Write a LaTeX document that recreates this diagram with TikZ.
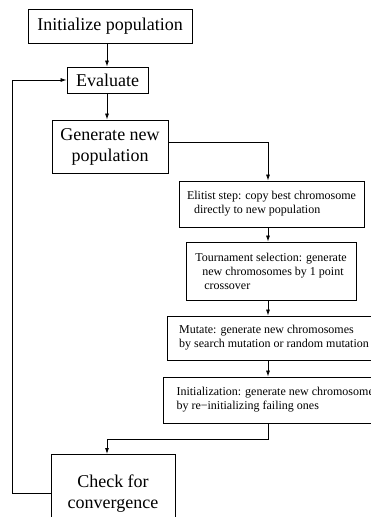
\documentclass[tikz,border=0pt]{standalone}
\usepackage{fontspec}
\setmainfont{Liberation Serif}
\usetikzlibrary{positioning,arrows.meta}

\begin{document}
\begin{tikzpicture}[x=1pt,y=-1pt,
  bigbox/.style = {draw=black, line width=0.9pt, inner sep=0pt, align=center, font=\fontsize{18}{21}\selectfont},
  smallbox/.style = {draw=black, line width=0.9pt, inner sep=0pt, align=left, font=\fontsize{12}{14}\selectfont},
  flow/.style = {-{Latex[length=6pt,width=4pt]}, line width=0.8pt}]
\path[use as bounding box, clip] (0,0) rectangle (371,517);
\coordinate (lcol) at (107,0);
\coordinate (rcol) at (268,0);
\coordinate (joint) at (0,439);
% main loop
\node[bigbox, minimum width=164pt, minimum height=34pt] (initpop) at (110,26) {Initialize population};
\node[bigbox, minimum width=81pt, minimum height=26pt] (evaluate) at (107.5,80) {Evaluate};
\node[bigbox, minimum width=116pt, minimum height=53pt] (genpop) at (110,146.5) {Generate new\\population};
\node[bigbox, minimum width=124pt, minimum height=78pt, anchor=north] (check) at (113,454) {Check for\\convergence};
% generation steps
\node[smallbox, minimum width=185pt, minimum height=46pt] (elitist) at (271.5,204)
  {Elitist step: copy best chromosome\\\hspace*{7pt}directly to new population};
\node[smallbox, minimum width=170pt, minimum height=58pt] (tourn) at (271,271)
  {Tournament selection: generate\\\hspace*{7pt}new chromosomes by 1 point\\\hspace*{9pt}crossover};
\node[smallbox, minimum width=214pt, minimum height=44pt] (mutate) at (274,338)
  {Mutate: generate new chromosomes\\by search mutation or random mutation};
\node[smallbox, minimum width=229pt, minimum height=46pt] (reinit) at (277.5,400)
  {Initialization: generate new chromosomes\\by re{\char"2212}initializing failing ones};
% connectors
\draw[flow] (lcol |- initpop.south) -- (lcol |- evaluate.north);
\draw[flow] (lcol |- evaluate.south) -- (lcol |- genpop.north);
\draw[flow] ([yshift=4pt]genpop.east) -| (rcol |- elitist.north);
\draw[flow] (rcol |- elitist.south) -- (rcol |- tourn.north);
\draw[flow] (rcol |- tourn.south) -- (rcol |- mutate.north);
\draw[flow] (rcol |- mutate.south) -- (rcol |- reinit.north);
\draw[flow] (rcol |- reinit.south) -- (rcol |- joint) -| (lcol |- check.north);
\draw[flow] (check.west) -- ++(-38,0) |- (evaluate.west);
\end{tikzpicture}
\end{document}
